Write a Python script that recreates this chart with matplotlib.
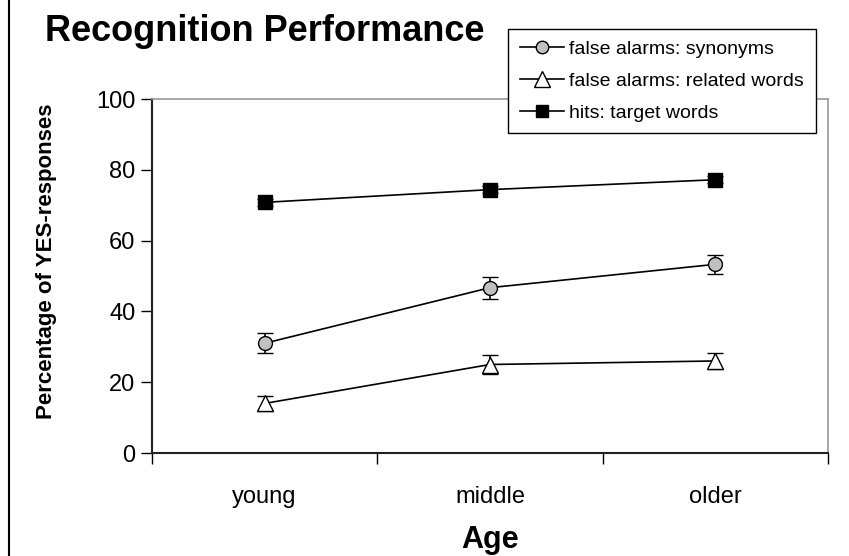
import matplotlib
matplotlib.use("Agg")
import matplotlib.pyplot as plt
from matplotlib.lines import Line2D

plt.rcParams["font.family"] = ["Liberation Sans", "DejaVu Sans"]

ages = ["young", "middle", "older"]
synonyms = [31.0, 46.7, 53.3]
synonyms_err = [2.8, 3.1, 2.6]
related = [14.0, 25.0, 26.0]
related_err = [2.2, 2.8, 2.3]
hits = [70.8, 74.4, 77.2]
hits_err = [1.0, 1.0, 1.0]

fig = plt.figure(figsize=(8.49, 5.56), dpi=100)
ax = fig.add_axes([152 / 849, 1 - 453 / 556, (828 - 152) / 849, (453 - 99) / 556])

x = range(len(ages))
line_kw = dict(color="black", lw=1.2, ecolor="black", elinewidth=1.2,
               capsize=6, capthick=1.2, markeredgecolor="black",
               markeredgewidth=1.0)

series = [
    (synonyms, synonyms_err, "o", 10, "#c0c0c0", "false alarms: synonyms"),
    (related, related_err, "^", 12, "white", "false alarms: related words"),
    (hits, hits_err, "s", 10, "black", "hits: target words"),
]

handles = []
for vals, errs, mk, ms, fc, name in series:
    ax.errorbar(x, vals, yerr=errs, marker=mk, ms=ms, markerfacecolor=fc, **line_kw)
    handles.append(Line2D([], [], color="black", lw=1.2, marker=mk, ms=ms - 1,
                          markerfacecolor=fc, markeredgecolor="black", label=name))

ax.set_xlim(-0.5, 2.5)
ax.set_ylim(0, 100)
ax.set_yticks(range(0, 101, 20))
ax.set_xticks([0, 1, 2])
ax.set_xticklabels(ages, fontsize=17)
ax.set_xticks([-0.5, 0.5, 1.5, 2.5], minor=True)
ax.tick_params(axis="x", which="major", length=0, pad=24)
ax.tick_params(axis="x", which="minor", length=8, width=1, direction="out")
ax.tick_params(axis="y", length=8, width=1, direction="out", labelsize=17, pad=4)

for side in ["top", "right"]:
    ax.spines[side].set_color("#999999")
    ax.spines[side].set_linewidth(1.2)
for side in ["left", "bottom"]:
    ax.spines[side].set_color("#222222")
    ax.spines[side].set_linewidth(1.5)

ax.set_xlabel("Age", fontsize=22, fontweight="bold", labelpad=12)
ax.set_ylabel("Percentage of YES-responses", fontsize=16, fontweight="bold")
ax.yaxis.set_label_coords((57 - 152) / (828 - 152), (453 - 261) / (453 - 99))

fig.text(45 / 849, 1 - 41 / 556, "Recognition Performance", fontsize=26,
         fontweight="bold", ha="left", va="baseline")

leg = fig.legend(handles=handles, loc="upper left",
                 bbox_to_anchor=(508 / 849, 1 - 29 / 556), borderaxespad=0,
                 fontsize=14, frameon=True, fancybox=False, edgecolor="black",
                 handlelength=2.3, handletextpad=0.25, labelspacing=0.72,
                 borderpad=0.6, framealpha=1)
leg.get_frame().set_linewidth(1.0)

# left edge rule of the figure
fig.add_artist(Line2D([9 / 849, 9 / 849], [0, 1], color="black", lw=1.5,
                      transform=fig.transFigure))

fig.savefig("out.png", dpi=100)
